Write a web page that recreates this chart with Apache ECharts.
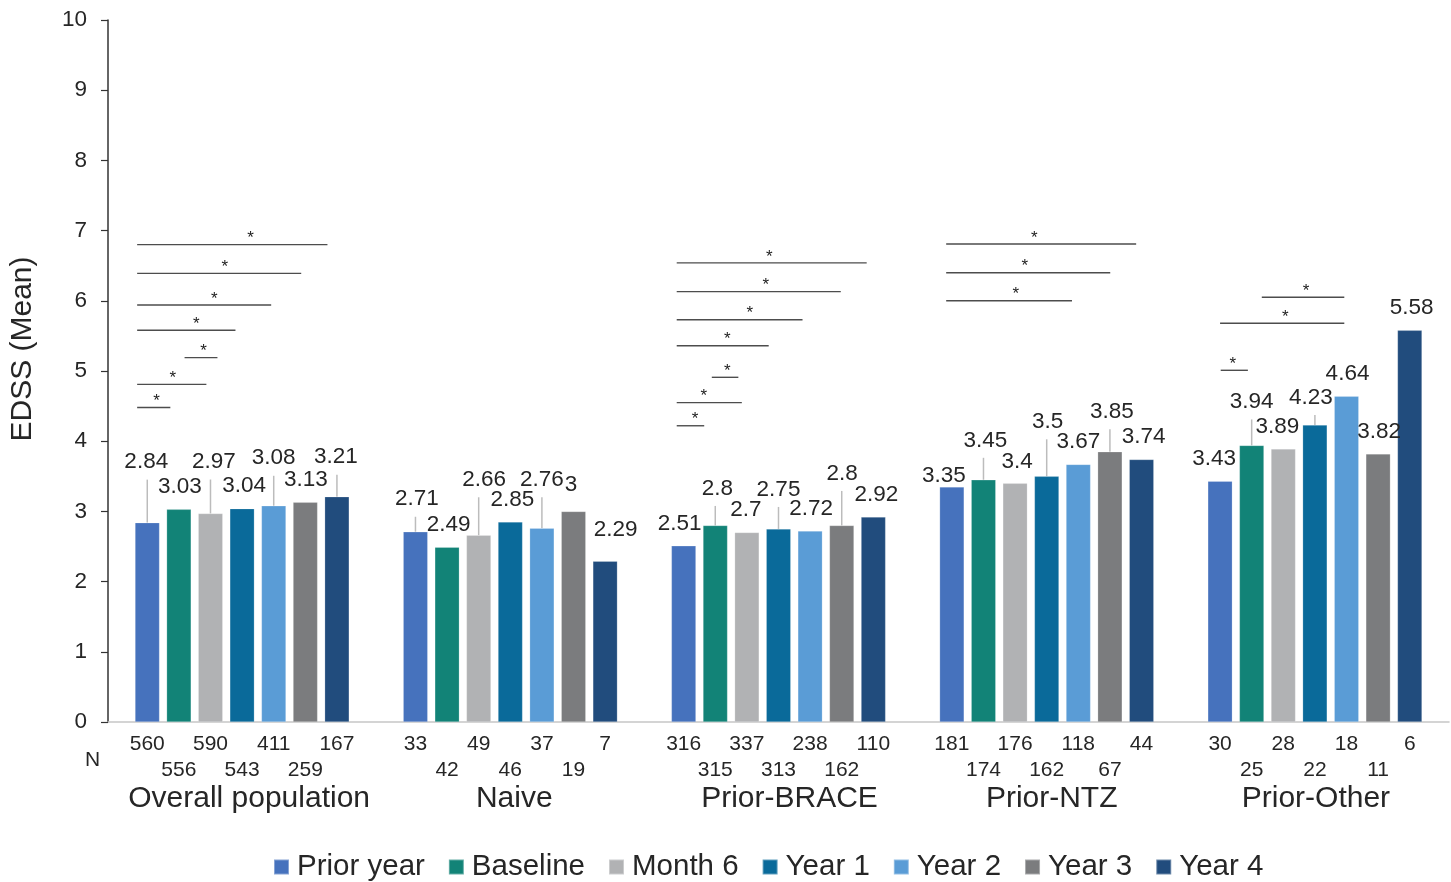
<!DOCTYPE html>
<html>
<head>
<meta charset="utf-8">
<script src="https://cdn.jsdelivr.net/npm/echarts@6/dist/echarts.min.js"></script>
<style>
  html, body { margin: 0; padding: 0; background: #fff; }
  #chart { width: 1451px; height: 882px; }
</style>
</head>
<body>
<div id="chart"></div>
<script>
// ---- data ----
const groups = ['Overall population', 'Naive', 'Prior-BRACE', 'Prior-NTZ', 'Prior-Other'];
const seriesNames = ['Prior year', 'Baseline', 'Month 6', 'Year 1', 'Year 2', 'Year 3', 'Year 4'];

// mean EDSS per time point, one value per group
const priorYear = [2.84, 2.71, 2.51, 3.35, 3.43];
const baseline  = [3.03, 2.49, 2.8, 3.45, 3.94];
const month6    = [2.97, 2.66, 2.7, 3.4, 3.89];
const year1     = [3.04, 2.85, 2.75, 3.5, 4.23];
const year2     = [3.08, 2.76, 2.72, 3.67, 4.64];
const year3     = [3.13, 3, 2.8, 3.85, 3.82];
const year4     = [3.21, 2.29, 2.92, 3.74, 5.58];

// number of patients behind each bar
const nPriorYear = [560, 33, 316, 181, 30];
const nBaseline  = [556, 42, 315, 174, 25];
const nMonth6    = [590, 49, 337, 176, 28];
const nYear1     = [543, 46, 313, 162, 22];
const nYear2     = [411, 37, 238, 118, 18];
const nYear3     = [259, 19, 162, 67, 11];
const nYear4     = [167, 7, 110, 44, 6];

const yTickValues = [0, 1, 2, 3, 4, 5, 6, 7, 8, 9, 10];

// significant comparisons: [group, start slot, end slot, EDSS level, star slot]
// slots count bars from the first bar of the group (0 = Prior year centre)
const sigOverall = [
  [0, -0.32, 5.70, 6.80, 3.27],
  [0, -0.32, 4.87, 6.39, 2.45],
  [0, -0.32, 3.92, 5.94, 2.12],
  [0, -0.32, 2.79, 5.58, 1.55],
  [0, 1.18, 2.22, 5.19, 1.78],
  [0, -0.32, 1.87, 4.81, 0.81],
  [0, -0.32, 0.73, 4.48, 0.29]
];
const sigBrace = [
  [2, -0.22, 5.79, 6.54, 2.71],
  [2, -0.22, 4.97, 6.13, 2.60],
  [2, -0.22, 3.76, 5.73, 2.09],
  [2, -0.22, 2.69, 5.36, 1.38],
  [2, 0.89, 1.73, 4.91, 1.38],
  [2, -0.22, 1.84, 4.55, 0.64],
  [2, -0.22, 0.65, 4.22, 0.36]
];
const sigNtz = [
  [3, -0.18, 5.83, 6.81, 2.61],
  [3, -0.18, 5.01, 6.40, 2.31],
  [3, -0.18, 3.80, 6.00, 2.02]
];
const sigOther = [
  [4, 1.32, 3.93, 6.05, 2.72],
  [4, 0.00, 3.93, 5.68, 2.06],
  [4, 0.02, 0.88, 5.01, 0.40]
];

// ---- layout ----
const FONT = "'Liberation Sans', Arial, Helvetica, sans-serif";
const TEXT = '#262626';
const colors = ['#4672bd', '#128377', '#b1b2b4', '#0a6a9a', '#5a9cd6', '#7b7c7e', '#214c7d'];
const BAR_W = 24.6;
const BAR_GAP = 0.285;
const PITCH = BAR_W * (1 + BAR_GAP);
const LABEL_DIST = 11;

// label nudges [dx, dy] per series and group; leader marks raised labels tied to their bar
const labelNudge = [
  [[-1, -38], [1.5, -10], [-4, 0], [-8, 11], [-6, 0]],
  [[1, 0], [1.5, 0], [2, -14.5], [2, -17], [0, -21]],
  [[3.5, -29], [5.5, -33], [-1, 0], [2, 1], [-6, 0]],
  [[2, 0], [2, 0], [0, -17], [1, -32], [-4, -5]],
  [[0, -25], [0, -26], [1, 0], [0, 0], [1, 0]],
  [[0.5, 0], [-2.5, -4.5], [0.5, -29.5], [2, -17.5], [1, 0]],
  [[-1, -17], [10.5, -8.6], [3, 0], [2, 0], [2, 0]]
];
const leader = [
  [1, 1, 0, 0, 0],
  [0, 0, 1, 1, 1],
  [1, 1, 0, 0, 0],
  [0, 0, 1, 1, 1],
  [1, 1, 0, 0, 0],
  [0, 0, 1, 1, 0],
  [1, 0, 0, 0, 0]
];
// horizontal nudge of the group names under the axis
const groupNameShift = [7, 4, 11, 5, 1];

const values = [priorYear, baseline, month6, year1, year2, year3, year4];
const counts = [nPriorYear, nBaseline, nMonth6, nYear1, nYear2, nYear3, nYear4];

const barSeries = values.map((vals, s) => ({
  name: seriesNames[s],
  type: 'bar',
  barWidth: BAR_W,
  barGap: (BAR_GAP * 100) + '%',
  itemStyle: { color: colors[s], borderColor: 'rgba(255,255,255,0.35)', borderWidth: 0.6 },
  label: {
    show: true,
    position: 'top',
    distance: LABEL_DIST,
    fontFamily: FONT,
    fontSize: 22.5,
    color: TEXT
  },
  z: 3,
  data: vals.map((v, g) => ({
    value: v,
    label: { offset: labelNudge[s][g] }
  }))
}));

// leader lines from bar tops to raised labels
const leaderData = [];
values.forEach((vals, s) => vals.forEach((v, g) => {
  if (leader[s][g]) leaderData.push([g, s, v, labelNudge[s][g][1]]);
}));

const leaderSeries = {
  type: 'custom',
  name: 'leaders',
  silent: true,
  z: 2,
  encode: { x: 0, y: 2 },
  renderItem: (params, api) => {
    const p = api.coord([api.value(0), api.value(2)]);
    const x = p[0] + (api.value(1) - 3) * PITCH;
    const top = p[1];
    const end = top - LABEL_DIST - 11 + api.value(3) + 17;
    return {
      type: 'line',
      shape: { x1: x, y1: top, x2: x, y2: end },
      style: { stroke: '#bcbcbc', lineWidth: 1.5 }
    };
  },
  data: leaderData
};

// significance brackets
const sigSeries = {
  type: 'custom',
  name: 'significance',
  silent: true,
  z: 4,
  encode: { x: 0, y: 3 },
  renderItem: (params, api) => {
    const c = api.coord([api.value(0), api.value(3)]);
    const base = c[0] - 3 * PITCH;
    const x0 = base + api.value(1) * PITCH;
    const x1 = base + api.value(2) * PITCH;
    const xs = base + api.value(4) * PITCH;
    return {
      type: 'group',
      children: [
        {
          type: 'line',
          shape: { x1: x0, y1: c[1], x2: x1, y2: c[1] },
          style: { stroke: '#4d4d4d', lineWidth: 1.4 }
        },
        {
          type: 'text',
          style: {
            x: xs, y: c[1] - 6, text: '*',
            align: 'center', verticalAlign: 'middle',
            font: '17px ' + FONT, fill: '#222'
          }
        }
      ]
    };
  },
  data: [].concat(sigOverall, sigBrace, sigNtz, sigOther)
};

// patient counts under the axis, alternating two rows
const nData = [];
counts.forEach((arr, s) => arr.forEach((n, g) => nData.push([g, s, n])));
const nSeries = {
  type: 'custom',
  name: 'counts',
  silent: true,
  encode: { x: 0, y: 1 },
  renderItem: (params, api) => {
    const c = api.coord([api.value(0), 0]);
    const s = api.value(1);
    const x = c[0] + (s - 3) * PITCH;
    const y = c[1] + (s % 2 ? 48 : 22);
    return {
      type: 'text',
      style: {
        x: x, y: y, text: String(api.value(2)),
        align: 'center', verticalAlign: 'middle',
        font: '21px ' + FONT, fill: TEXT
      }
    };
  },
  data: nData
};

const chart = echarts.init(document.getElementById('chart'), null, { renderer: 'canvas' });
chart.setOption({
  animation: false,
  backgroundColor: '#fff',
  color: colors,
  grid: { left: 107, right: 2, top: 20, bottom: 160, containLabel: false },
  legend: {
    data: seriesNames,
    left: 273,
    top: 852,
    padding: 0,
    icon: 'rect',
    itemWidth: 15,
    itemHeight: 15,
    itemGap: 23,
    textStyle: { fontFamily: FONT, fontSize: 29.5, color: TEXT, padding: [0, 0, 0, 3] }
  },
  xAxis: {
    type: 'category',
    data: groups,
    axisLine: { show: true, lineStyle: { color: '#c6c6c6', width: 1.5 } },
    axisTick: { show: false },
    axisLabel: {
      margin: 62,
      fontFamily: FONT,
      fontSize: 30,
      color: TEXT,
      interval: 0,
      formatter: (name, idx) => '{g' + idx + '|' + name + '}',
      rich: Object.fromEntries(groupNameShift.map((d, i) => [
        'g' + i,
        { fontFamily: FONT, fontSize: 30, color: TEXT, padding: [0, 0, 0, 2 * d] }
      ]))
    }
  },
  yAxis: {
    type: 'value',
    min: yTickValues[0],
    max: yTickValues[yTickValues.length - 1],
    interval: yTickValues[1] - yTickValues[0],
    name: 'EDSS (Mean)',
    nameLocation: 'middle',
    nameRotate: 90,
    nameGap: 70,
    nameTextStyle: { fontFamily: FONT, fontSize: 30, color: TEXT, padding: [0, 0, 0, 44] },
    axisLine: { show: true, lineStyle: { color: '#333', width: 1.5 } },
    axisTick: { show: true, inside: false, length: 7, lineStyle: { color: '#333', width: 1.2 } },
    axisLabel: { margin: 21, fontFamily: FONT, fontSize: 22.5, color: TEXT },
    splitLine: { show: false }
  },
  graphic: [
    {
      type: 'text',
      left: 85,
      top: 750,
      style: { text: 'N', font: '21px ' + FONT, fill: TEXT }
    }
  ],
  series: barSeries.concat([leaderSeries, sigSeries, nSeries])
});
</script>
</body>
</html>
